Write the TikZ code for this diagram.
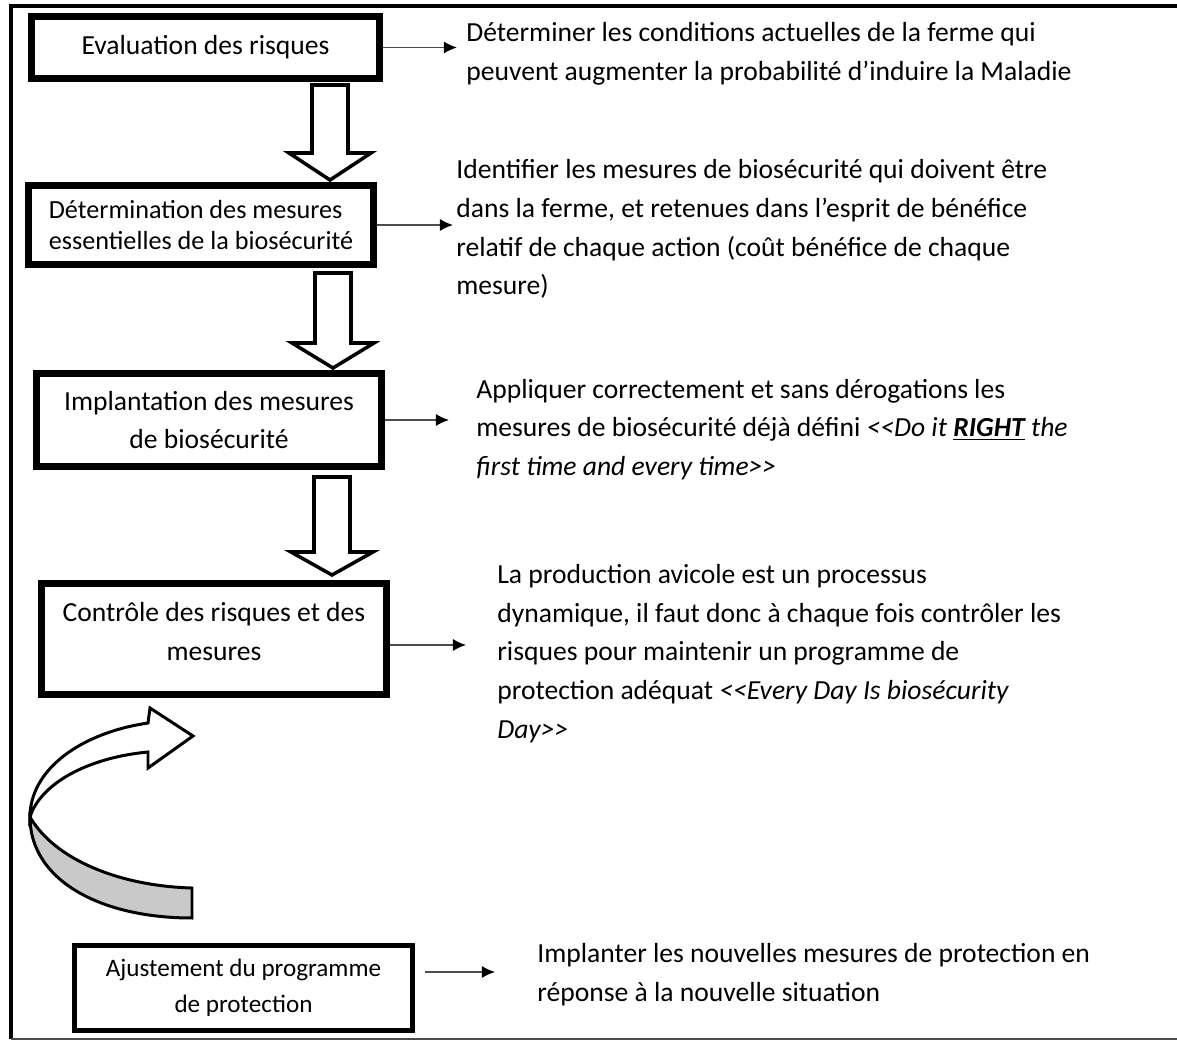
\documentclass[tikz,border=0pt]{standalone}
\usepackage{fontspec}
\setmainfont{Carlito}
\usepackage{tikz}
\usetikzlibrary{arrows.meta}

\begin{document}
\begin{tikzpicture}[x=0.02cm, y=-0.02cm, >={Latex[length=7.5pt,width=7pt,black]},
	boite/.style={draw, line width=4pt, inner sep=0pt, font=\fontsize{15.7}{22.1}\selectfont},
	texte/.style={anchor=west, align=left, inner sep=0pt, font=\fontsize{15.7}{22.1}\selectfont},
	fleche/.style={->, draw=black!70, line width=0.9pt},
	creux/.style={draw, line width=2pt, fill=white, line join=miter}]
	
	\useasboundingbox (0,0) rectangle (1177,1044);
	
	% cadre
	\draw[line width=2.4pt] (11,1039) -- (11,6) -- (1185,6);
	\draw[black!70, line width=1pt] (11,1039) -- (1185,1039);
	
	% étapes
	\node[boite, minimum width=6.96cm, minimum height=1.24cm] (eval) at (205.5,47.5) {Evaluation des risques};
	\node[boite, minimum width=6.9cm, minimum height=1.58cm, align=left, font=\fontsize{14.9}{18.1}\selectfont] (determ) at (201,225) {Détermination des mesures\\essentielles de la biosécurité};
	\node[boite, minimum width=6.9cm, minimum height=1.86cm, align=center] (implant) at (209,420) {Implantation des mesures\\de biosécurité};
	\node[boite, minimum width=6.9cm, minimum height=2.22cm, align=center, text depth=0.3cm] (controle) at (214,639) {Contrôle des risques et des\\mesures};
	\node[boite, line width=3pt, minimum width=6.75cm, minimum height=1.69cm, align=center, font=\fontsize{14.3}{20.4}\selectfont] (ajust) at (243.5,988) {Ajustement du programme\\de protection};
	
	% flèches creuses entre les étapes
	\foreach \cx/\ya/\yb/\yc in {330/85/153/180, 333/273/343/368, 332/477/552/575}
		\draw[creux] (\cx-18,\ya) -- (\cx+18,\ya) -- (\cx+18,\yb) -- (\cx+41,\yb) -- (\cx,\yc) -- (\cx-41,\yb) -- (\cx-18,\yb) -- cycle;
	
	% flèche courbe
	\draw[line width=1.7pt, fill=black!21] (30,817) .. controls (30,880) and (100,918) .. (192,918) -- (192,888) .. controls (120,886) and (55,860) .. (30,817) -- cycle;
	\draw[line width=1.7pt, fill=white, line join=miter] (148,723) .. controls (80,733) and (30,770) .. (30,817) .. controls (40,785) and (85,758) .. (148,752) -- (148,768) -- (193,736) -- (150,708) -- cycle;
	
	% explications
	\node[texte] (t1) at (466,53.5) {Déterminer les conditions actuelles de la ferme qui\\peuvent augmenter la probabilité d’induire la Maladie};
	\node[texte] (t2) at (456,229) {Identifier les mesures de biosécurité qui doivent être\\dans  la ferme, et retenues dans l’esprit de bénéfice\\relatif de chaque action (coût bénéfice de chaque\\mesure)};
	\node[texte] (t3) at (476,429.5) {Appliquer correctement et sans dérogations les\\mesures de biosécurité déjà défini \textit{<\kern0pt<Do it \underline{\textbf{RIGHT}} the}\\\textit{first time and every time>\kern0pt>}};
	\node[texte] (t4) at (497,653.5) {La production avicole est un processus\\dynamique, il faut donc à chaque fois contrôler les\\risques pour maintenir un programme de\\protection adéquat \textit{<\kern0pt<Every Day Is biosécurity}\\\textit{Day>\kern0pt>}};
	\node[texte] (t5) at (537,975) {Implanter les nouvelles mesures de protection en\\réponse à la nouvelle situation};
	
	% flèches vers les explications
	\coordinate (p1) at (457,47.5);
	\coordinate (p2) at (453,225);
	\coordinate (p3) at (449,420);
	\coordinate (p4) at (466,645);
	\coordinate (d5) at (425,972);
	\coordinate (p5) at (495,972);
	\draw[fleche] (eval) -- (p1);
	\draw[fleche] (determ) -- (p2);
	\draw[fleche] (implant) -- (p3);
	\draw[fleche] (controle.east |- p4) -- (p4);
	\draw[fleche] (d5) -- (p5);
\end{tikzpicture}
\end{document}
